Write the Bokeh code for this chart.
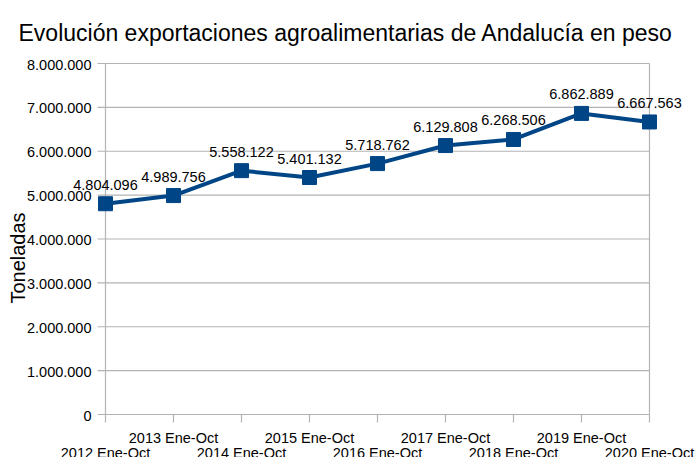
from bokeh.plotting import figure
from bokeh.models import Range1d, LabelSet, Label, ColumnDataSource
from bokeh.core.properties import value
from bokeh.embed import file_html
from bokeh.resources import INLINE
import math

# ---- data ----
periods = ["2012 Ene-Oct", "2013 Ene-Oct", "2014 Ene-Oct", "2015 Ene-Oct", "2016 Ene-Oct",
           "2017 Ene-Oct", "2018 Ene-Oct", "2019 Ene-Oct", "2020 Ene-Oct"]
toneladas = [4804096, 4989756, 5558122, 5401132, 5718762, 6129808, 6268506, 6862889, 6667563]
y_ticks = [0, 1000000, 2000000, 3000000, 4000000, 5000000, 6000000, 7000000, 8000000]
y_tick_labels = ["0", "1.000.000", "2.000.000", "3.000.000", "4.000.000",
                 "5.000.000", "6.000.000", "7.000.000", "8.000.000"]
title_text = "Evolución exportaciones agroalimentarias de Andalucía en peso"
y_title = "Toneladas"

# ---- layout (canvas pixels) ----
W, H = 698, 457
PLOT_L, PLOT_R, PLOT_T, PLOT_B = 105, 649, 63, 414
TICK = 8
FONT = "Liberation Sans"
BLUE = "#004586"
GRID = "#b3b3b3"

n = len(periods)
xs = list(range(n))
ymin, ymax = y_ticks[0], y_ticks[-1]
ppx = (PLOT_R - PLOT_L) / (n - 1)
ppy = (PLOT_B - PLOT_T) / (ymax - ymin)

p = figure(width=W, height=H, output_backend="svg", toolbar_location=None,
           x_axis_type=None, y_axis_type=None,
           x_range=Range1d(-PLOT_L / ppx, (n - 1) + (W - PLOT_R) / ppx),
           y_range=Range1d(ymin - (H - PLOT_B) / ppy, ymax + PLOT_T / ppy),
           min_border=0)
p.outline_line_color = None
p.grid.visible = False
p.background_fill_color = "white"
p.border_fill_color = "white"

# horizontal grid lines (their left overhang forms the y ticks)
p.segment(x0=[-TICK / ppx] * len(y_ticks), y0=y_ticks, x1=[n - 1] * len(y_ticks), y1=y_ticks,
          line_color=GRID, line_width=1.2)
# vertical frame lines
p.segment(x0=[0, n - 1], y0=[ymin] * 2, x1=[0, n - 1], y1=[ymax] * 2,
          line_color=GRID, line_width=1.2)
# x ticks
p.segment(x0=xs, y0=[ymin] * n, x1=xs, y1=[ymin - TICK / ppy] * n,
          line_color=GRID, line_width=1.2)

# y tick labels
ytl = ColumnDataSource(dict(x=[0] * len(y_ticks), y=y_ticks, t=y_tick_labels))
p.add_layout(LabelSet(x="x", y="y", text="t", source=ytl, x_offset=-14, y_offset=-1,
                      text_align="right", text_baseline="middle",
                      text_font=value(FONT), text_font_size=value("14.5px"),
                      text_color="black"))

# series
p.line(xs, toneladas, line_color=BLUE, line_width=4)
p.scatter(xs, toneladas, marker="square", size=14, fill_color=BLUE, line_color=BLUE)

# data labels
val_src = ColumnDataSource(dict(x=xs, y=toneladas,
                                t=[f"{v:,}".replace(",", ".") for v in toneladas]))
p.add_layout(LabelSet(x="x", y="y", text="t", source=val_src, y_offset=14,
                      text_align="center", text_baseline="alphabetic",
                      text_font=value(FONT), text_font_size=value("14.5px"),
                      text_color="black"))

# staggered category labels
upper = ColumnDataSource(dict(x=xs[1::2], y=[ymin] * len(xs[1::2]), t=periods[1::2]))
lower = ColumnDataSource(dict(x=xs[0::2], y=[ymin] * len(xs[0::2]), t=periods[0::2]))
for src, off in ((upper, -28.3), (lower, -43)):
    p.add_layout(LabelSet(x="x", y="y", text="t", source=src, y_offset=off,
                          text_align="center", text_baseline="alphabetic",
                          text_font=value(FONT), text_font_size=value("14.5px"),
                          text_color="black"))

# title (screen units: origin at bottom-left of canvas)
p.add_layout(Label(x=18, y=H - 32.3, x_units="screen", y_units="screen", text=title_text,
                   text_align="left", text_baseline="alphabetic",
                   text_font=FONT, text_font_size="23px", text_color="black"))
# y axis title
p.add_layout(Label(x=17.5, y=H - 257.5, x_units="screen", y_units="screen", text=y_title,
                   angle=math.pi / 2, text_align="center", text_baseline="middle",
                   text_font=FONT, text_font_size="20px", text_color="black"))

open("out.html", "w").write(file_html(p, INLINE))
